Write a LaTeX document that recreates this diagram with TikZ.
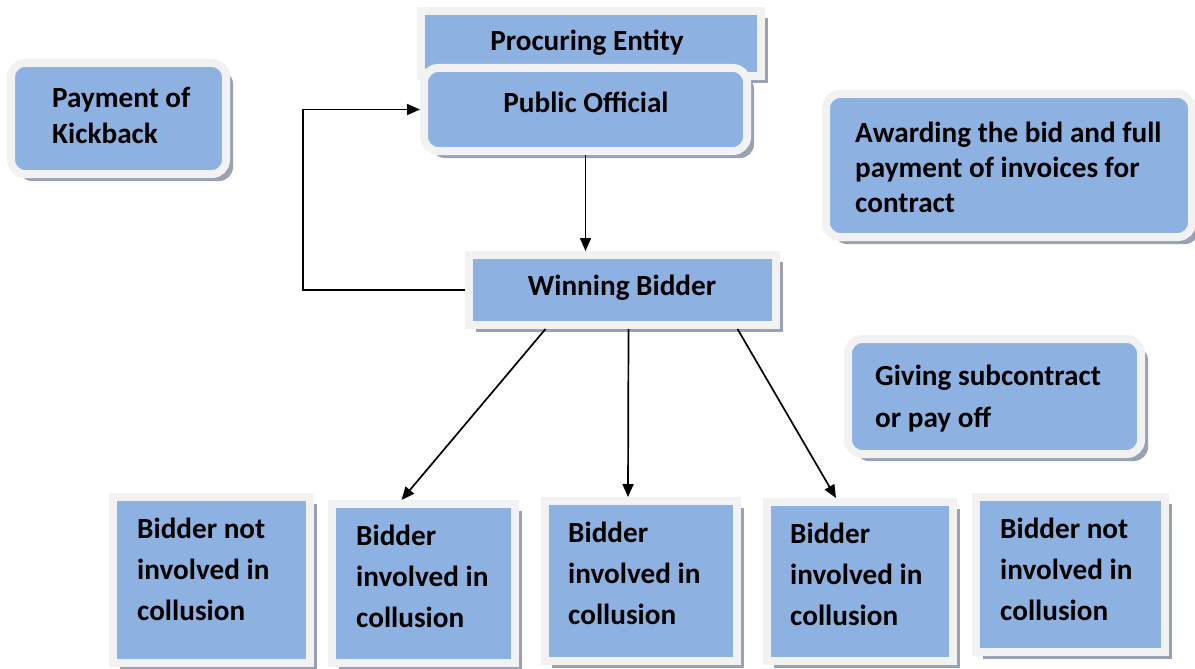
\documentclass[tikz,border=0pt]{standalone}
\usepackage{fontspec}
\setmainfont{Carlito}
\usetikzlibrary{shadows,arrows.meta,calc}
\definecolor{boxblue}{RGB}{141,178,226}
\definecolor{framec}{RGB}{242,242,242}
\definecolor{shadowc}{RGB}{152,162,178}
\begin{document}
\begin{tikzpicture}[x=1pt,y=-1pt,
  sqbox/.style={rectangle,fill=boxblue,draw=framec,line width=8pt,inner sep=0pt,
    drop shadow={shadow xshift=7pt,shadow yshift=-7pt,fill=shadowc,opacity=1}},
  rdbox/.style={sqbox,rounded corners=14pt},
  lbl/.style={inner sep=0pt,align=left,font=\fontsize{29.2}{41}\selectfont\bfseries},
  arr/.style={line width=1.7pt,-{Triangle[length=13pt,width=11pt]}}]
\useasboundingbox (0,0) rectangle (1195,669);
% boxes
\node[sqbox,minimum width=340pt,minimum height=65pt] (pe) at (591,43.5) {};
\node[rdbox,minimum width=323pt,minimum height=83pt] (po) at (585.5,109.5) {};
\node[rdbox,minimum width=215pt,minimum height=111pt] (pk) at (118.5,118.5) {};
\node[rdbox,minimum width=366pt,minimum height=143pt] (aw) at (1009,165.5) {};
\node[rdbox,minimum width=293pt,minimum height=115pt] (gv) at (994.5,396.5) {};
\node[sqbox,minimum width=307pt,minimum height=70pt] (wb) at (622.5,290) {};
\node[sqbox,minimum width=197pt,minimum height=166pt] (b1) at (211.5,580) {};
\node[sqbox,minimum width=183pt,minimum height=159pt] (b2) at (423.5,583.5) {};
\node[sqbox,minimum width=192pt,minimum height=160pt] (b3) at (641,581) {};
\node[sqbox,minimum width=186pt,minimum height=159pt] (b4) at (860,581.5) {};
\node[sqbox,minimum width=189pt,minimum height=155pt] (b5) at (1070.5,574.5) {};
% texts (base anchor = baseline of last line)
\node[lbl,anchor=base] (tpe) at (587,51) {Procuring Entity};
\node[lbl,anchor=base] (tpo) at (586,112) {Public Official};
\node[lbl,anchor=base] (twb) at (622,295) {Winning Bidder};
\node[lbl,anchor=base west,font=\fontsize{29.2}{36}\selectfont\bfseries] (tpk) at (52,143) {Payment of\\Kickback};
\node[lbl,anchor=base west,font=\fontsize{29.2}{35}\selectfont\bfseries] (taw) at (855,212) {Awarding the bid and full\\payment of invoices for\\contract};
\node[lbl,anchor=base west,font=\fontsize{29.2}{42}\selectfont\bfseries] (tgv) at (875,427) {Giving subcontract\\or pay off};
\node[lbl,anchor=base west] (tb1) at (137,620) {Bidder not\\involved in\\collusion};
\node[lbl,anchor=base west] (tb2) at (356,627) {Bidder\\involved in\\collusion};
\node[lbl,anchor=base west] (tb3) at (568,624) {Bidder\\involved in\\collusion};
\node[lbl,anchor=base west] (tb4) at (790,625) {Bidder\\involved in\\collusion};
\node[lbl,anchor=base west] (tb5) at (1000,620) {Bidder not\\involved in\\collusion};
% connectors
\coordinate (loopx) at (303,0);
\draw[arr] (wb.west) -- (loopx |- wb.west) -- (loopx |- po.west) -- (po.west);
\draw[arr] (po.south) -- (po.south |- wb.north);
\draw[arr] ($(wb.south)+(-77,0)$) -- ($(b2.north)+(-22,0)$);
\draw[arr] ($(wb.south)+(6,0)$) -- ($(b3.north)+(-13,0)$);
\draw[arr] ($(wb.south)+(115,0)$) -- ($(b4.north)+(-24,0)$);
\end{tikzpicture}
\end{document}
